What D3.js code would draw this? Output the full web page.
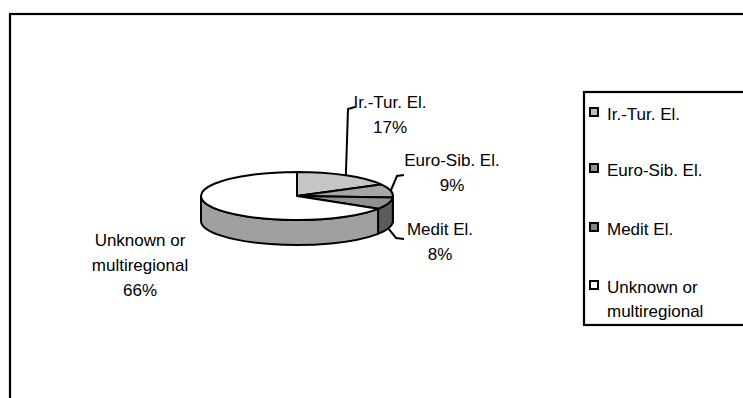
<!DOCTYPE html>
<html><head><meta charset="utf-8">
<script src="https://cdn.jsdelivr.net/npm/d3@7"></script>
<style>body{margin:0;background:#fff}svg{display:block}</style>
</head><body><svg id="c" width="743" height="398"></svg>
<script>
// ---- data ----
const categories = ["Ir.-Tur. El.", "Euro-Sib. El.", "Medit El.", "Unknown or multiregional"];
const values = [17, 9, 8, 66];
const percentLabels = ["17%", "9%", "8%", "66%"];
const labelLines = [["Ir.-Tur. El."], ["Euro-Sib. El."], ["Medit El."], ["Unknown or", "multiregional"]];
const legendLines = [["Ir.-Tur. El."], ["Euro-Sib. El."], ["Medit El."], ["Unknown or", "multiregional"]];
const topColors = ["#c6c6c6", "#a6a6a6", "#909090", "#ffffff"];
const sideColors = ["#8a8a8a", "#6e6e6e", "#5c5c5c", "#a0a0a0"];
const swatchColors = ["#bdbdbd", "#939393", "#858585", "#ffffff"];

// ---- layout ----
const W = 743, H = 398;
const font = "'Liberation Sans', Arial, sans-serif";
const fs = 17, lh = 25;
const P = {cx: 297, cy: 196, rx: 96, ry: 24, depth: 25};
const labelPos = [{x: 390, y: 102}, {x: 452, y: 160}, {x: 440, y: 229}, {x: 140, y: 240}];
const leaderBend = [[[348, 109], [355, 107]], [[397, 176], [404, 175]], [[396, 238], [404, 239]], null];
const legendBox = {x: 584, y: 92, w: 200, h: 233};
const legendY = [114, 170, 229, 287];

const svg = d3.select("#c");
svg.append("rect").attr("x", 0).attr("y", 0).attr("width", W).attr("height", H).attr("fill", "#fff");
// chart frame
svg.append("rect").attr("x", 10).attr("y", 14).attr("width", 800).attr("height", 500)
  .attr("fill", "#fff").attr("stroke", "#000").attr("stroke-width", 2.2);

const arcs = d3.pie().sort(null).value(d => d)(values);
const pt = (a, dz = 0) => [P.cx + P.rx * Math.sin(a), P.cy - P.ry * Math.cos(a) + dz];
const f = p => p[0].toFixed(2) + "," + p[1].toFixed(2);

const g = svg.append("g");
// sides (front half only)
arcs.forEach((d, i) => {
  const s = Math.max(d.startAngle, Math.PI / 2), e = Math.min(d.endAngle, 3 * Math.PI / 2);
  if (s >= e) return;
  const large = (e - s) > Math.PI ? 1 : 0;
  const p0 = pt(s), p1 = pt(e), q1 = pt(e, P.depth), q0 = pt(s, P.depth);
  const path = `M${f(p0)}A${P.rx},${P.ry} 0 ${large} 1 ${f(p1)}L${f(q1)}A${P.rx},${P.ry} 0 ${large} 0 ${f(q0)}Z`;
  g.append("path").attr("d", path).attr("fill", sideColors[i])
    .attr("stroke", "#000").attr("stroke-width", 2).attr("stroke-linejoin", "round");
});
// tops
arcs.forEach((d, i) => {
  const large = (d.endAngle - d.startAngle) > Math.PI ? 1 : 0;
  const path = `M${P.cx},${P.cy}L${f(pt(d.startAngle))}A${P.rx},${P.ry} 0 ${large} 1 ${f(pt(d.endAngle))}Z`;
  g.append("path").attr("d", path).attr("fill", topColors[i])
    .attr("stroke", "#000").attr("stroke-width", 2).attr("stroke-linejoin", "round");
});

// leader lines
arcs.forEach((d, i) => {
  if (!leaderBend[i]) return;
  const mid = (d.startAngle + d.endAngle) / 2;
  const front = Math.cos(mid) < -0.2;
  const start = pt(mid, front ? P.depth : 0);
  const line = d3.line();
  svg.append("path").attr("d", line([start, ...leaderBend[i]]))
    .attr("fill", "none").attr("stroke", "#000").attr("stroke-width", 2);
});

// data labels
arcs.forEach((d, i) => {
  const lines = labelLines[i].concat([percentLabels[i]]);
  const t = svg.append("text").attr("font-family", font).attr("font-size", fs)
    .attr("text-anchor", "middle").attr("fill", "#000");
  lines.forEach((l, k) => {
    t.append("tspan").attr("x", labelPos[i].x).attr("y", labelPos[i].y + k * lh)
      .attr("dy", "0.35em").text(l);
  });
});

// legend
svg.append("rect").attr("x", legendBox.x).attr("y", legendBox.y).attr("width", legendBox.w)
  .attr("height", legendBox.h).attr("fill", "#fff").attr("stroke", "#000").attr("stroke-width", 2.2);
categories.forEach((c, i) => {
  svg.append("rect").attr("x", 590).attr("y", legendY[i] - 6).attr("width", 8).attr("height", 8)
    .attr("fill", swatchColors[i]).attr("stroke", "#000").attr("stroke-width", 2);
  const t = svg.append("text").attr("font-family", font).attr("font-size", fs).attr("fill", "#000");
  legendLines[i].forEach((l, k) => {
    t.append("tspan").attr("x", 607).attr("y", legendY[i] + k * 24).attr("dy", "0.35em").text(l);
  });
});
</script></body></html>
